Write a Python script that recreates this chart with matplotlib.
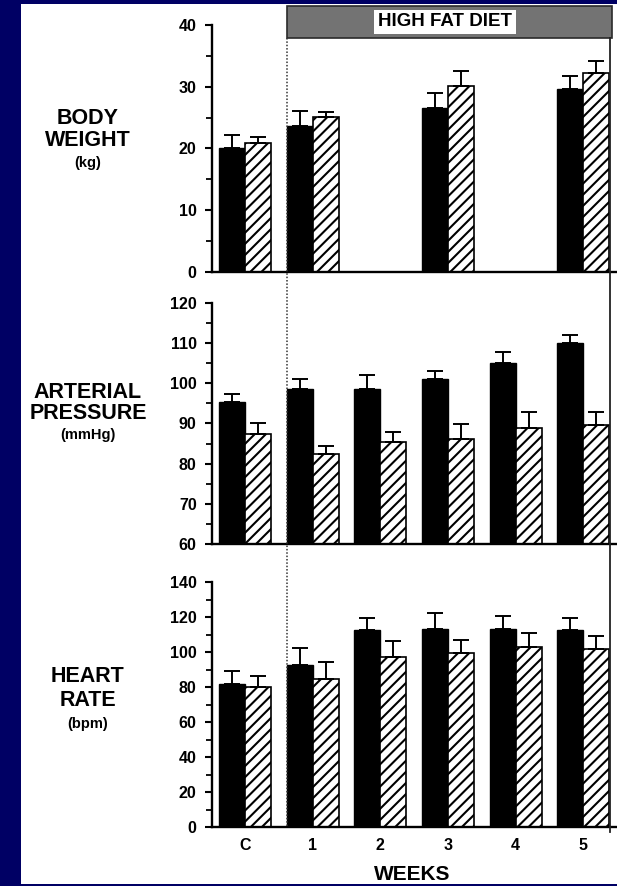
import numpy as np
import matplotlib
matplotlib.use('Agg')
import matplotlib.pyplot as plt
from matplotlib.patches import Rectangle
from matplotlib.lines import Line2D
from matplotlib.transforms import blended_transform_factory

plt.rcParams['font.family'] = ['Liberation Sans', 'DejaVu Sans']
plt.rcParams['font.weight'] = 'bold'
plt.rcParams['hatch.linewidth'] = 1.5

weeks = ['C', '1', '2', '3', '4', '5']

# body weight (kg), None = not measured
bw_black = [20.0, 23.6, None, 26.6, None, 29.7]
bw_black_err = [2.2, 2.5, None, 2.4, None, 2.0]
bw_hatch = [20.9, 25.1, None, 30.2, None, 32.2]
bw_hatch_err = [1.0, 0.8, None, 2.4, None, 1.9]

# arterial pressure (mmHg)
ap_black = [95.4, 98.5, 98.5, 101.2, 105.1, 110.0]
ap_black_err = [1.9, 2.6, 3.5, 1.8, 2.7, 2.0]
ap_hatch = [87.5, 82.3, 85.3, 86.1, 89.0, 89.6]
ap_hatch_err = [2.6, 2.1, 2.6, 3.8, 3.9, 3.2]

# heart rate (bpm)
hr_black = [81.7, 92.6, 112.6, 113.1, 113.1, 112.6]
hr_black_err = [7.4, 9.7, 6.8, 9.2, 7.5, 6.8]
hr_hatch = [80.0, 84.6, 97.1, 99.4, 102.9, 101.7]
hr_hatch_err = [6.3, 9.7, 9.2, 7.5, 8.0, 7.4]

panels = [
    (['BODY', 'WEIGHT'], '(kg)', bw_black, bw_black_err, bw_hatch, bw_hatch_err,
     (0, 40), 10, 5),
    (['ARTERIAL', 'PRESSURE'], '(mmHg)', ap_black, ap_black_err, ap_hatch, ap_hatch_err,
     (60, 120), 10, 5),
    (['HEART', 'RATE'], '(bpm)', hr_black, hr_black_err, hr_hatch, hr_hatch_err,
     (0, 140), 20, 10),
]

navy = '#000064'
W, H = 617, 886
fig = plt.figure(figsize=(W / 100, H / 100), dpi=100, facecolor=navy)
fig.patches.append(Rectangle((21 / W, 1 - 884 / H), 1, (884 - 4) / H,
                             transform=fig.transFigure, facecolor='white',
                             edgecolor='none', zorder=-5))

# axes placement in pixels (top, bottom)
boxes = [(25, 272), (303, 544), (582, 827)]
label_y = [(119, 140, 163), (392, 413, 435), (677, 700, 724)]
left_px = 212
bw = 0.385
x = np.arange(len(weeks))

axes = []
for i, (names, unit, mb, eb, mh, eh, ylim, major, minor) in enumerate(panels):
    top, bot = boxes[i]
    ax = fig.add_axes([left_px / W, 1 - bot / H, (W - left_px) / W, (bot - top) / H])
    ax.set_facecolor('none')
    axes.append(ax)
    idx = [k for k in range(len(weeks)) if mb[k] is not None]
    xb = x[idx] - bw / 2
    xh = x[idx] + bw / 2
    vb = np.array([mb[k] for k in idx])
    vh = np.array([mh[k] for k in idx])
    base = ylim[0]
    ax.bar(xb, vb - base, bottom=base, width=bw, color='black', edgecolor='black', linewidth=1)
    ax.bar(xh, vh - base, bottom=base, width=bw, color='white', edgecolor='black',
           hatch='///', linewidth=1.2)
    ebv = np.array([eb[k] for k in idx])
    ehv = np.array([eh[k] for k in idx])
    ax.errorbar(xb, vb, yerr=[np.zeros_like(ebv), ebv], fmt='none', ecolor='black',
                elinewidth=1.4, capsize=6, capthick=1.4)
    ax.errorbar(xh, vh, yerr=[np.zeros_like(ehv), ehv], fmt='none', ecolor='black',
                elinewidth=1.4, capsize=6, capthick=1.4)
    ax.set_xlim(-0.49, 5.5)
    ax.set_ylim(*ylim)
    ax.set_yticks(np.arange(ylim[0], ylim[1] + 1, major))
    ax.set_yticks(np.arange(ylim[0], ylim[1] + 1, minor), minor=True)
    ax.tick_params(axis='y', which='major', length=5, width=1.5, pad=6, labelsize=11.5)
    ax.tick_params(axis='y', which='minor', length=4, width=1.3)
    for s in ['top', 'right']:
        ax.spines[s].set_visible(False)
    for s in ['left', 'bottom']:
        ax.spines[s].set_linewidth(1.7)
    if i < 2:
        ax.set_xticks([])
    else:
        ax.set_xticks(x)
        ax.set_xticklabels(weeks)
        ax.tick_params(axis='x', length=0, pad=8, labelsize=11.5)
    fig.text(88 / W, 1 - label_y[i][0] / H, names[0], ha='center', va='center',
             fontsize=15.5, fontweight='bold')
    fig.text(88 / W, 1 - label_y[i][1] / H, names[1], ha='center', va='center',
             fontsize=15.5, fontweight='bold')
    fig.text(88 / W, 1 - label_y[i][2] / H, unit, ha='center', va='center',
             fontsize=10.5, fontweight='bold')

fig.text(412 / W, 1 - 874 / H, 'WEEKS', ha='center', va='center', fontsize=15, fontweight='bold')

# high fat diet band and vertical separators
tr = blended_transform_factory(axes[0].transData, fig.transFigure)
fig.patches.append(Rectangle((0.62, 1 - 38 / H), 5.43 - 0.62, 32 / H, transform=tr,
                             facecolor='#737373', edgecolor='#2a2a2a', linewidth=1.2, zorder=1))
fig.text(445 / W, 1 - 22 / H, 'HIGH FAT DIET', ha='center', va='center', fontsize=13.5,
         fontweight='bold', zorder=3,
         bbox=dict(facecolor='white', edgecolor='none', pad=2.5))
fig.lines.append(Line2D([0.62, 0.62], [1 - 38 / H, 1 - 827 / H], transform=tr,
                        color='#333333', linestyle=(0, (1, 1.2)), linewidth=1.1, zorder=2))
fig.lines.append(Line2D([5.40, 5.40], [1 - 38 / H, 1 - 832 / H], transform=tr,
                        color='#222222', linewidth=1.3, zorder=2))

fig.savefig('out.png', dpi=100, facecolor=navy)
